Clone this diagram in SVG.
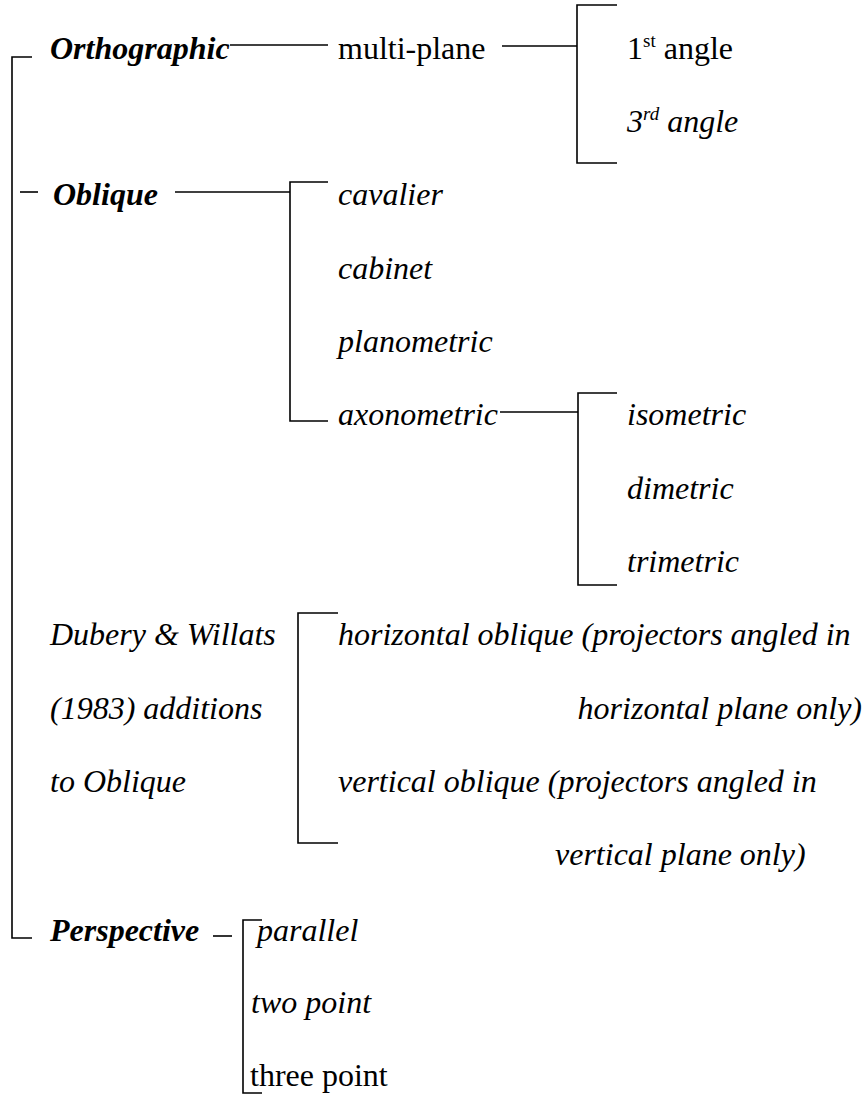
<svg xmlns="http://www.w3.org/2000/svg" width="866" height="1100" viewBox="0 0 866 1100">
<style>
text{font-family:"Liberation Serif","Times New Roman",serif;font-size:32px;fill:#000}
.bi{font-weight:bold;font-style:italic}
.i{font-style:italic}
.sup{font-size:19px}
.ln{stroke:#000;stroke-width:1.6;fill:none}
</style>
<rect width="866" height="1100" fill="#fff"/>
<g id="connectors">
<path class="ln" d="M32,57 H12 V938 H32"/>
<path class="ln" d="M20,192 H38"/>
<path class="ln" d="M230,45 H328"/>
<path class="ln" d="M502,46 H577"/>
<path class="ln" d="M617,5 H577 V163 H617"/>
<path class="ln" d="M175,192 H290"/>
<path class="ln" d="M328,182 H290 V421 H328"/>
<path class="ln" d="M500,412 H578"/>
<path class="ln" d="M617,393 H578 V585 H617"/>
<path class="ln" d="M338,613 H298 V843 H338"/>
<path class="ln" d="M213,936 H232"/>
<path class="ln" d="M262,920 H243 V1093 H262"/>
</g>
<g id="orthographic"><text class="bi" x="50" y="59">Orthographic</text></g>
<g id="multi-plane"><text x="338" y="59">multi-plane</text></g>
<g id="first-angle"><text x="627" y="59">1<tspan class="sup" dy="-12">st</tspan><tspan dy="12"> angle</tspan></text></g>
<g id="third-angle"><text class="i" x="627" y="132">3<tspan class="sup" dy="-12">rd</tspan><tspan dy="12"> angle</tspan></text></g>
<g id="oblique"><text class="bi" x="53" y="205">Oblique</text></g>
<g id="cavalier"><text class="i" x="338" y="205">cavalier</text></g>
<g id="cabinet"><text class="i" x="338" y="279">cabinet</text></g>
<g id="planometric"><text class="i" x="338" y="352">planometric</text></g>
<g id="axonometric"><text class="i" x="338" y="425">axonometric</text></g>
<g id="isometric"><text class="i" x="627" y="425">isometric</text></g>
<g id="dimetric"><text class="i" x="627" y="499">dimetric</text></g>
<g id="trimetric"><text class="i" x="627" y="572">trimetric</text></g>
<g id="dubery-willats">
<text class="i" x="50" y="645">Dubery &amp; Willats</text>
<text class="i" x="50" y="719">(1983) additions</text>
<text class="i" x="50" y="792">to Oblique</text>
</g>
<g id="horizontal-oblique">
<text class="i" x="338" y="645">horizontal oblique (projectors angled in</text>
<text class="i" x="862" y="719" text-anchor="end">horizontal plane only)</text>
</g>
<g id="vertical-oblique">
<text class="i" x="338" y="792">vertical oblique (projectors angled in</text>
<text class="i" x="555" y="865">vertical plane only)</text>
</g>
<g id="perspective"><text class="bi" x="50" y="941">Perspective</text></g>
<g id="parallel"><text class="i" x="257" y="941">parallel</text></g>
<g id="two-point"><text class="i" x="251" y="1013">two point</text></g>
<g id="three-point"><text x="250" y="1086">three point</text></g>
</svg>
